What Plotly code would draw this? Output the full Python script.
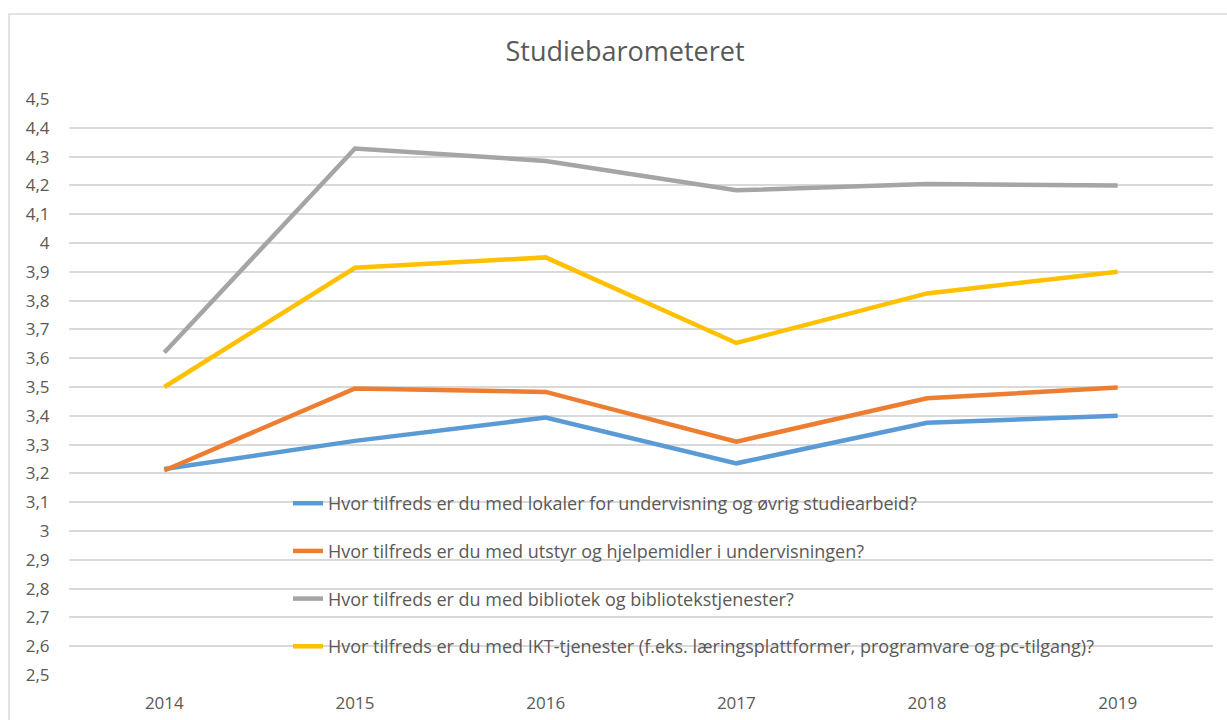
import plotly.graph_objects as go

years = ["2014", "2015", "2016", "2017", "2018", "2019"]
lokaler = [3.215, 3.313, 3.394, 3.235, 3.376, 3.40]
utstyr = [3.21, 3.495, 3.483, 3.31, 3.461, 3.498]
bibliotek = [3.62, 4.328, 4.285, 4.183, 4.205, 4.20]
ikt = [3.50, 3.914, 3.95, 3.653, 3.825, 3.90]

names = [
    "Hvor tilfreds er du med lokaler for undervisning og øvrig studiearbeid?",
    "Hvor tilfreds er du med utstyr og hjelpemidler i undervisningen?",
    "Hvor tilfreds er du med bibliotek og bibliotekstjenester?",
    "Hvor tilfreds er du med IKT-tjenester (f.eks. læringsplattformer, programvare og pc-tilgang)?",
]
colors = ["#5B9BD5", "#ED7D31", "#A5A5A5", "#FFC000"]
series = [lokaler, utstyr, bibliotek, ikt]

y_ticks = [2.5, 2.6, 2.7, 2.8, 2.9, 3.0, 3.1, 3.2, 3.3, 3.4, 3.5,
           3.6, 3.7, 3.8, 3.9, 4.0, 4.1, 4.2, 4.3, 4.4, 4.5]
y_tick_text = ["2,5", "2,6", "2,7", "2,8", "2,9", "3", "3,1", "3,2", "3,3", "3,4", "3,5",
               "3,6", "3,7", "3,8", "3,9", "4", "4,1", "4,2", "4,3", "4,4", "4,5"]

W, H = 1227, 720
L, R, T, B = 69, 14, 99, 45
pw, ph = W - L - R, H - T - B

def px(x):
    return (x - L) / pw

def py(y):
    return (H - B - y) / ph

fig = go.Figure()
for i, (n, c, s) in enumerate(zip(names, colors, series)):
    fig.add_trace(go.Scatter(
        x=years, y=s, mode="lines", name=n,
        line=dict(color=c, width=4.5),
        legendgroup=f"g{i}",
    ))

FONT = "Open Sans, Liberation Sans, sans-serif"
fig.update_layout(
    width=W, height=H,
    margin=dict(l=L, r=R, t=T, b=B, autoexpand=False),
    paper_bgcolor="white", plot_bgcolor="white",
    font=dict(family=FONT, color="#595959", size=17),
    title=dict(text="Studiebarometeret", x=625 / W, xref="container", xanchor="center",
               y=1 - 52 / H, yref="container", yanchor="middle",
               font=dict(size=27, color="#595959")),
    showlegend=True,
    legend=dict(
        x=px(288), y=py(485), xanchor="left", yanchor="top",
        bgcolor="rgba(0,0,0,0)", traceorder="grouped", tracegroupgap=21.3,
        font=dict(size=18, color="#595959"),
        itemwidth=30,
    ),
    xaxis=dict(
        type="category", range=[-0.5, 5.5], showgrid=False, zeroline=False,
        showline=False, ticks="outside", ticklen=13, tickcolor="rgba(0,0,0,0)",
        tickfont=dict(size=17, color="#595959"), automargin=False,
    ),
    yaxis=dict(
        range=[2.5, 4.5], tickvals=y_ticks, ticktext=y_tick_text,
        showgrid=True, gridcolor="#D9D9D9", gridwidth=1.5, zeroline=False,
        showline=False, ticks="outside", ticklen=15, tickcolor="rgba(0,0,0,0)",
        tickfont=dict(size=17, color="#595959"), automargin=False,
    ),
    shapes=[dict(type="rect", xref="paper", yref="paper",
                 x0=px(9), x1=px(W + 20), y0=py(H + 20), y1=py(14),
                 line=dict(color="#D9D9D9", width=1.5), fillcolor="rgba(0,0,0,0)",
                 layer="below")],
)

fig.write_html(
    "out.html",
    config={"displayModeBar": False},
    post_script="document.body.style.margin='0';document.body.style.overflow='hidden';",
)
